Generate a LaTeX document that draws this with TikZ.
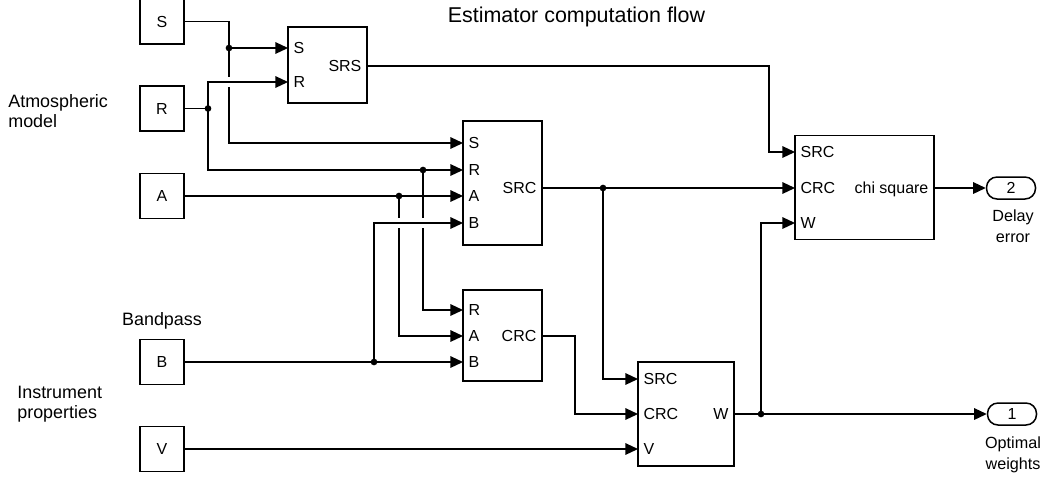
\documentclass[tikz,border=0pt]{standalone}
\usepackage{fontspec}
\setmainfont{Liberation Sans}
\usetikzlibrary{arrows.meta, positioning}

\begin{document}
\begin{tikzpicture}[
  x=0.02cm, y=-0.02cm,
  every node/.style={font=\fontsize{9.1}{10.8}\selectfont},
  srcbox/.style={rectangle, draw, line width=0.85pt, minimum width=0.88cm,
                 minimum height=0.9cm, inner sep=0pt},
  block/.style={rectangle, draw, line width=0.85pt, inner sep=0pt},
  outport/.style={rectangle, rounded corners=0.21cm, draw, line width=0.85pt,
                  minimum width=0.98cm, minimum height=0.44cm, inner sep=0pt},
  pin/.style={anchor=west, inner sep=3pt, text height=6.5pt, text depth=0pt},
  pout/.style={anchor=east, inner sep=3pt, text height=6.5pt, text depth=0pt},
  side/.style={font=\fontsize{10.2}{11.4}\selectfont, align=left, inner sep=0pt},
  outlbl/.style={font=\fontsize{9.2}{12}\selectfont, align=center, inner sep=0pt},
  wire/.style={line width=0.75pt},
  conn/.style={wire, -{Triangle[length=7.2pt, width=6.6pt]}},
  dot/.style={circle, fill, inner sep=0pt, minimum size=3.8pt},
  hopgap/.style={draw=white, line width=1.8pt}
]
\useasboundingbox (0,0) rectangle (1045,478);

\node[font=\fontsize{12.2}{14}\selectfont, anchor=base] (title) at (576.5,22)
  {Estimator computation flow};

% side labels
\node[side, anchor=west] (atm) at (8,111) {Atmospheric\\model};
\node[side, anchor=west] (instr) at (17,404) {Instrument\\properties};
\node[side] (band) at (162,321) {Bandpass};

% sources
\node[srcbox] (S) at (162,21.5) {S};
\node[srcbox] (R) at (162,108.5) {R};
\node[srcbox] (A) at (162,196) {A};
\node[srcbox] (B) at (162,362) {B};
\node[srcbox] (V) at (162,449) {V};

% blocks
\node[block, minimum width=1.58cm, minimum height=1.52cm] (SRS) at (327.5,65) {};
\node[block, minimum width=1.58cm, minimum height=2.48cm] (SRC) at (502.5,183) {};
\node[block, minimum width=1.58cm, minimum height=1.82cm] (CRC) at (502.5,335.5) {};
\node[block, minimum width=1.92cm, minimum height=2.08cm] (Wb) at (686,414) {};
\node[block, minimum width=2.78cm, minimum height=2.08cm] (chi) at (864.5,187.5) {};

% ports
\coordinate (srs-s) at (288,48);
\coordinate (srs-r) at (288,82);
\coordinate (srs-o) at (367,66);
\coordinate (src-s) at (463,143);
\coordinate (src-r) at (463,170);
\coordinate (src-a) at (463,196);
\coordinate (src-b) at (463,223);
\coordinate (src-o) at (542,188);
\coordinate (crc-r) at (463,310);
\coordinate (crc-a) at (463,336);
\coordinate (crc-b) at (463,362);
\coordinate (crc-o) at (542,336);
\coordinate (w-src) at (638,379);
\coordinate (w-crc) at (638,414);
\coordinate (w-v) at (638,449);
\coordinate (w-o) at (734,414);
\coordinate (chi-src) at (795,152);
\coordinate (chi-crc) at (795,188);
\coordinate (chi-w) at (795,223);
\coordinate (chi-o) at (934,188);

\node[pin] (srs-ls) at (srs-s) {S};
\node[pin] (srs-lr) at (srs-r) {R};
\node[pout] (srs-lo) at (srs-o) {SRS};
\node[pin] (src-ls) at (src-s) {S};
\node[pin] (src-lr) at (src-r) {R};
\node[pin] (src-la) at (src-a) {A};
\node[pin] (src-lb) at (src-b) {B};
\node[pout] (src-lo) at (src-o) {SRC};
\node[pin] (crc-lr) at (crc-r) {R};
\node[pin] (crc-la) at (crc-a) {A};
\node[pin] (crc-lb) at (crc-b) {B};
\node[pout] (crc-lo) at (crc-o) {CRC};
\node[pin] (w-lsrc) at (w-src) {SRC};
\node[pin] (w-lcrc) at (w-crc) {CRC};
\node[pin] (w-lv) at (w-v) {V};
\node[pout] (w-lo) at (w-o) {W};
\node[pin] (chi-lsrc) at (chi-src) {SRC};
\node[pin] (chi-lcrc) at (chi-crc) {CRC};
\node[pin] (chi-lw) at (chi-w) {W};
\node[pout] (chi-lo) at (chi-o) {chi square};

% outputs
\node[outport] (out2) at (1011,188) {2};
\node[outport] (out1) at (1012,414) {1};
\node[outlbl] (out2-lbl) at (1013,226) {Delay\\error};
\node[outlbl] (out1-lbl) at (1013,455) {Optimal\\weights};

% junctions and bends
\coordinate (jS) at (229,48);
\coordinate (jR) at (208,108.5);
\coordinate (jR2) at (423,170);
\coordinate (jA) at (399,196);
\coordinate (jB) at (374,362);
\coordinate (jSRC) at (603,188);
\coordinate (jW) at (761,414);
\coordinate (kC) at (575,336);
\coordinate (kS) at (769,66);

% wires
\draw[conn] (S.east) -| (jS) |- (src-s);
\draw[conn] (jS) -- (srs-s);
\draw[wire] (R.east) -- (jR);
\draw[conn] (jR) |- (srs-r);
\draw[conn] (jR) |- (src-r);
\draw[conn] (A.east) -- (src-a);
\draw[conn] (jR2) |- (crc-r);
\draw[conn] (jA) |- (crc-a);
\draw[conn] (B.east) -- (crc-b);
\draw[conn] (jB) |- (src-b);
\draw[conn] (V.east) -- (w-v);
\draw[conn] (srs-o) -- (kS) |- (chi-src);
\draw[conn] (src-o) -- (chi-crc);
\draw[conn] (jSRC) |- (w-src);
\draw[conn] (crc-o) -- (kC) |- (w-crc);
\draw[conn] (w-o) -- (out1.west);
\draw[conn] (jW) |- (chi-w);
\draw[conn] (chi-o) -- (out2.west);

% line hops
\foreach \x/\y in {229/82, 399/223, 423/223}
  \draw[hopgap] (\x,\y-5) -- (\x,\y-1.2) (\x,\y+1.2) -- (\x,\y+5);

\foreach \j in {jS, jR, jR2, jA, jB, jSRC, jW}
  \node[dot] (\j-dot) at (\j) {};
\end{tikzpicture}
\end{document}
